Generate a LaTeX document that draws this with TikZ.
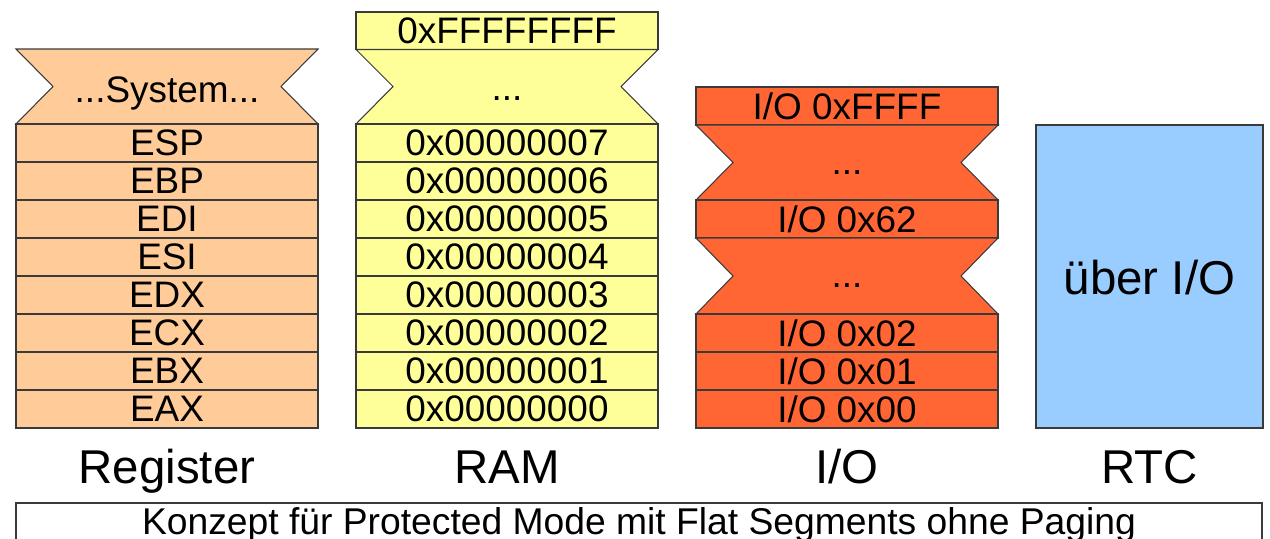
\documentclass[tikz,border=0pt]{standalone}
\usepackage{fontspec}
\setmainfont{Liberation Sans}
\definecolor{regorange}{HTML}{FFCC99}
\definecolor{ramyellow}{HTML}{FFFF99}
\definecolor{iored}{HTML}{FF6633}
\definecolor{rtcblue}{HTML}{99CCFF}
\definecolor{edgegray}{HTML}{3A3A3A}
\tikzset{
  cell/.style={draw=edgegray, line width=0.6pt},
  celltext/.style={font=\fontsize{21}{23}\selectfont, inner sep=0pt},
  bigtext/.style={font=\fontsize{27}{29}\selectfont, inner sep=0pt},
  captext/.style={font=\fontsize{21.2}{23}\selectfont, inner sep=0pt},
}

\begin{document}
\begin{tikzpicture}[x=0.02cm, y=-0.02cm]
  \useasboundingbox (0,0) rectangle (1270,538);
  \clip (0,0) rectangle (1270,538);

  % Register
  \draw[cell, fill=regorange] (16,49) -- (318,49) -- (281,86.5) -- (318,124) -- (16,124) -- (53,86.5) -- cycle;
  \node[celltext, anchor=base] (regsys) at (167,102) {...System...};
  \foreach \name [count=\i from 0] in {EAX,EBX,ECX,EDX,ESI,EDI,EBP,ESP}
    \draw[cell, fill=regorange] (16,{428-38*\i}) rectangle (318,{390-38*\i})
      node[midway, celltext] (reg\i) {\name};

  % RAM
  \draw[cell, fill=ramyellow] (356,12) rectangle (658,49.5) node[midway, celltext] (ramtop) {0xFFFFFFFF};
  \draw[cell, fill=ramyellow] (356,49.5) -- (658,49.5) -- (621,86.5) -- (658,124) -- (356,124) -- (393,86.5) -- cycle;
  \node[celltext, anchor=base] (ramdots) at (507,100) {...};
  \foreach \i in {0,...,7}
    \draw[cell, fill=ramyellow] (356,{428-38*\i}) rectangle (658,{390-38*\i})
      node[midway, celltext] (ram\i) {0x0000000\i};

  % I/O
  \draw[cell, fill=iored] (696,87) rectangle (998,125) node[midway, celltext] (iotop) {I/O 0xFFFF};
  \draw[cell, fill=iored] (696,125) -- (998,125) -- (961,162.5) -- (998,200) -- (696,200) -- (733,162.5) -- cycle;
  \node[celltext, anchor=base] (iodotsa) at (847,174) {...};
  \draw[cell, fill=iored] (696,200) rectangle (998,238) node[midway, celltext] (iomid) {I/O 0x62};
  \draw[cell, fill=iored] (696,238) -- (998,238) -- (961,276) -- (998,314) -- (696,314) -- (733,276) -- cycle;
  \node[celltext, anchor=base] (iodotsb) at (847,287) {...};
  \foreach \i in {0,1,2}
    \draw[cell, fill=iored] (696,{428-38*\i}) rectangle (998,{390-38*\i})
      node[midway, celltext] (io\i) {I/O 0x0\i};

  % RTC
  \draw[cell, fill=rtcblue] (1036,125) rectangle (1263,428);
  \node[bigtext] (rtcbox) at (1149.5,278) {über I/O};

  % Beschriftung
  \node[bigtext, anchor=base] (labreg) at (167,483) {Register};
  \node[bigtext, anchor=base] (labram) at (507,483) {RAM};
  \node[bigtext, anchor=base] (labio) at (847,483) {I/O};
  \node[bigtext, anchor=base] (labrtc) at (1149.5,483) {RTC};

  \draw[cell, fill=white] (16,503) rectangle (1262,580);
  \node[captext, anchor=base] (caption) at (639,534) {Konzept für Protected Mode mit Flat Segments ohne Paging};
\end{tikzpicture}
\end{document}
